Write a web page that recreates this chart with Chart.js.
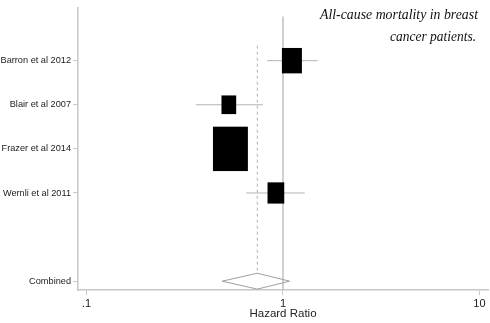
<!DOCTYPE html>
<html>
<head>
<meta charset="utf-8">
<script src="https://cdn.jsdelivr.net/npm/chart.js@4"></script>
<style>
  html, body { margin: 0; padding: 0; background: #fff; }
  #wrap { width: 490px; height: 323px; position: relative; }
</style>
</head>
<body>
<div id="wrap"><canvas id="forest"></canvas></div>
<script>
// Study-level hazard ratios with 95% confidence intervals
const studies    = ['Barron et al 2012', 'Blair et al 2007', 'Frazer et al 2014', 'Wernli et al 2011'];
const studyRows  = [1, 2, 3, 4];
const hazardRatio = [1.11, 0.53, 0.54, 0.92];
const ciLow       = [0.83, 0.36, 0.47, 0.65];
const ciHigh      = [1.50, 0.79, 0.62, 1.29];
const weights     = [18.9, 10.2, 57.7, 13.2];   // percent weight of each study

// Pooled estimate
const combinedLabel = 'Combined';
const combinedRow   = 6;
const combinedHR    = [0.74];
const combinedCI    = [0.49, 1.08];

// Axis ticks
const xTicks      = [0.1, 1, 10];
const xTickLabels = ['.1', '1', '10'];
const yRows       = studyRows.concat([combinedRow]);
const yLabels     = studies.concat([combinedLabel]);

const titleLines = ['All-cause mortality in breast', 'cancer patients.'];

const GRAY_AXIS = '#c8c8c8';

// confidence-interval whiskers
const ciSets = studies.map((s, i) => ({
  label: s + ' CI',
  data: [{ x: ciLow[i], y: studyRows[i] }, { x: ciHigh[i], y: studyRows[i] }],
  showLine: true, pointRadius: 0, borderColor: '#b4b4b4', borderWidth: 1, order: 5
}));

const pooled = combinedHR[0];
const diamondHalf = 0.18;

const datasets = ciSets.concat([
  { // line of no effect
    label: 'null',
    data: [{ x: 1, y: 0 }, { x: 1, y: 6.2 }],
    showLine: true, pointRadius: 0, borderColor: '#b0b0b0', borderWidth: 1.2, order: 6
  },
  { // pooled estimate reference line
    label: 'pooled line',
    data: [{ x: pooled, y: 0.66 }, { x: pooled, y: combinedRow - diamondHalf }],
    showLine: true, pointRadius: 0, borderColor: '#b0b0b0', borderWidth: 1,
    borderDash: [3, 3], order: 6
  },
  { // pooled diamond
    label: 'diamond',
    data: [
      { x: combinedCI[0], y: combinedRow },
      { x: pooled, y: combinedRow - diamondHalf },
      { x: combinedCI[1], y: combinedRow },
      { x: pooled, y: combinedRow + diamondHalf },
      { x: combinedCI[0], y: combinedRow }
    ],
    showLine: true, pointRadius: 0, borderColor: '#a0a0a0', borderWidth: 1,
    backgroundColor: '#fff', fill: false, order: 1
  }
]);

// weighted boxes: area proportional to study weight
const boxPlugin = {
  id: 'boxes',
  afterDatasetsDraw(chart) {
    const { ctx, scales: { x, y } } = chart;
    ctx.save();
    ctx.fillStyle = '#000';
    hazardRatio.forEach((hr, i) => {
      const side = 4.6 * Math.sqrt(weights[i]);
      const w = side, h = side * 1.27;
      const cx = x.getPixelForValue(hr);
      const cy = y.getPixelForValue(studyRows[i]);
      ctx.fillRect(cx - w / 2, cy - h / 2, w, h);
    });
    ctx.restore();
  }
};

// two-line note in the upper right corner
const titlePlugin = {
  id: 'noteTitle',
  afterDraw(chart) {
    const { ctx, chartArea } = chart;
    ctx.save();
    ctx.fillStyle = '#111';
    ctx.textAlign = 'right';
    ctx.textBaseline = 'alphabetic';
    ctx.font = 'italic 15px "Liberation Serif"';
    const right = chartArea.right - 10;
    ctx.fillText(titleLines[0], right, 19, 158);
    ctx.fillText(titleLines[1], right - 2, 41, 86);
    ctx.restore();
  }
};

new Chart(document.getElementById('forest'), {
  type: 'scatter',
  data: { datasets },
  plugins: [boxPlugin, titlePlugin],
  options: {
    responsive: true,
    maintainAspectRatio: false,
    animation: false,
    layout: { padding: { top: 3, right: 2, left: 0, bottom: 0 } },
    plugins: { legend: { display: false }, tooltip: { enabled: false } },
    scales: {
      x: {
        type: 'logarithmic',
        min: 0.0905,
        max: 11.05,
        afterBuildTicks(axis) { axis.ticks = xTicks.map(v => ({ value: v })); },
        afterFit(scale) { scale.height = 33; },
        ticks: {
          autoSkip: false, maxRotation: 0, padding: 2,
          color: '#222',
          font: { family: '"Liberation Sans", Arial, sans-serif', size: 11 },
          callback(v) { const i = xTicks.indexOf(v); return i >= 0 ? xTickLabels[i] : ''; }
        },
        grid: { display: true, drawOnChartArea: false, drawTicks: true, tickLength: 5, color: GRAY_AXIS, lineWidth: 1 },
        border: { display: true, color: GRAY_AXIS, width: 1.5 },
        title: {
          display: true, text: 'Hazard Ratio', color: '#222',
          font: { family: '"Liberation Sans", Arial, sans-serif', size: 11.5 },
          padding: { top: 0, bottom: 2 }
        }
      },
      y: {
        type: 'linear',
        reverse: true,
        min: -0.205,
        max: 6.2,
        afterBuildTicks(axis) { axis.ticks = yRows.map(v => ({ value: v })); },
        afterFit(scale) { scale.width = 78; },
        ticks: {
          autoSkip: false, padding: 2, color: '#222',
          font: { family: '"Liberation Sans", Arial, sans-serif', size: 9.2 },
          callback(v) { const i = yRows.indexOf(v); return i >= 0 ? yLabels[i] : ''; }
        },
        grid: { display: true, drawOnChartArea: false, drawTicks: true, tickLength: 5, color: GRAY_AXIS, lineWidth: 1 },
        border: { display: true, color: GRAY_AXIS, width: 1.5 }
      }
    }
  }
});
</script>
</body>
</html>
